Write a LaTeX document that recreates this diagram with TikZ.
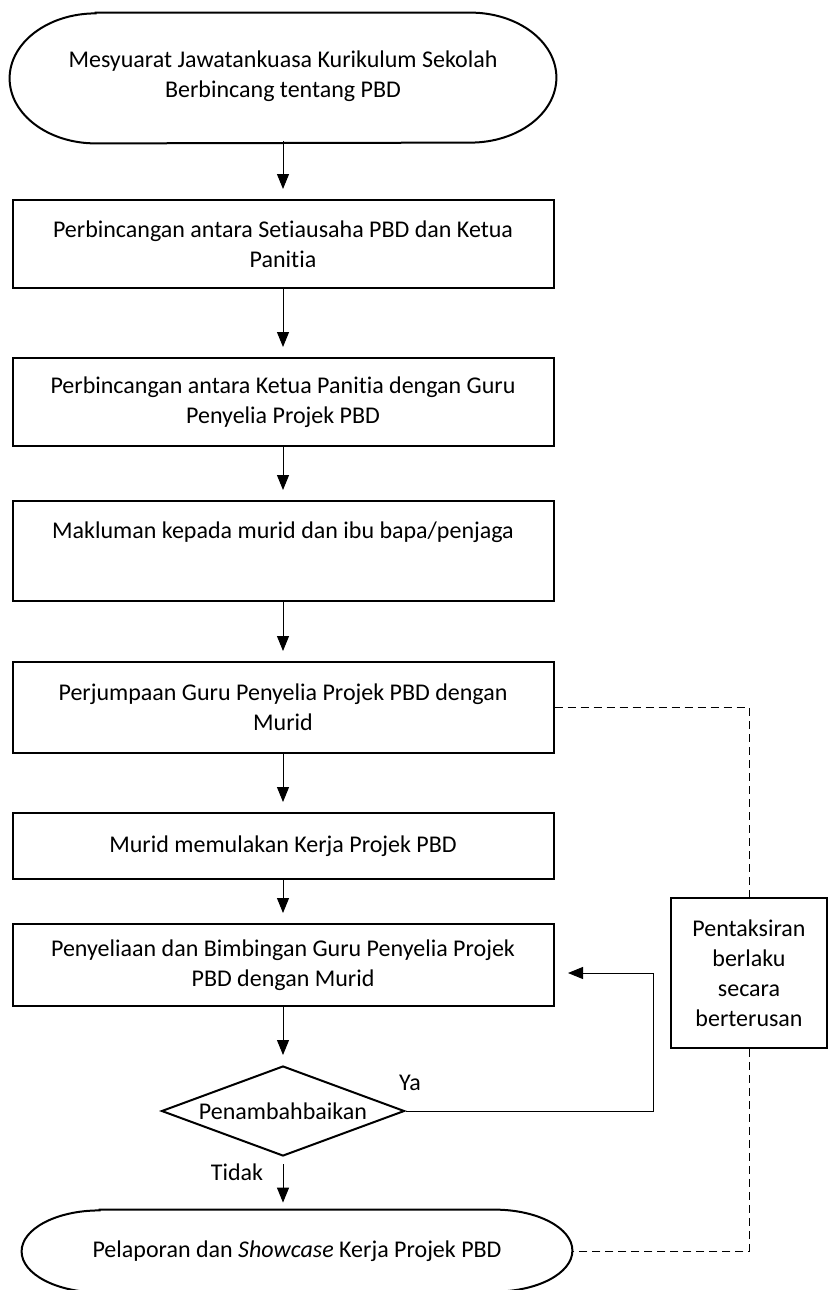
\documentclass[tikz,border=0pt]{standalone}
\usepackage{fontspec}
\setmainfont[Ligatures=NoCommon]{Carlito}
\usetikzlibrary{positioning,arrows.meta,shapes.geometric}

\tikzset{
  txt/.style={font=\fontsize{12}{15}\selectfont, align=center},
  procbox/.style={txt, draw, line width=1pt, minimum width=270.5pt, inner sep=0pt},
  termbox/.style={txt, inner sep=0pt},
  decbox/.style={txt, draw, diamond, aspect=2.7, line width=1pt, inner sep=0pt,
    minimum width=121.5pt, minimum height=45pt},
  notebox/.style={txt, draw, line width=0.75pt, minimum width=78pt, minimum height=75pt, inner sep=0pt},
  flow/.style={-{Triangle[width=6pt,length=7.5pt]}, line width=0.5pt, shorten >=5pt},
  dashline/.style={line width=0.5pt, dash pattern=on 4pt off 2.5pt}
}

\begin{document}
\begin{tikzpicture}[x=0.5pt,y=-0.5pt]
  \useasboundingbox (0,0) rectangle (828,1290);

  % start of the flow
  \node[termbox, minimum width=273pt, minimum height=65pt] (start) at (283,76)
    {Mesyuarat Jawatankuasa Kurikulum Sekolah\\Berbincang tentang PBD};
  \draw[line width=1pt] ([xshift=43pt,yshift=-1pt]start.north west) -- ([xshift=-43pt,yshift=-1pt]start.north east)
    arc[start angle=90, end angle=-90, x radius=43pt, y radius=32.5pt]
    -- ([xshift=43pt,yshift=-1pt]start.south west)
    arc[start angle=270, end angle=90, x radius=43pt, y radius=32.5pt] -- cycle;

  % steps
  \node[procbox, minimum height=44pt] (b1) at (283,244)
    {Perbincangan antara Setiausaha PBD dan Ketua\\Panitia};
  \node[procbox, minimum height=44pt] (b2) at (283,402)
    {Perbincangan antara Ketua Panitia dengan Guru\\Penyelia Projek PBD};
  \node[procbox, minimum height=50pt] (b3) at (283,551)
    {Makluman kepada murid dan ibu bapa/penjaga\\[6pt]\mbox{}};
  \node[procbox, minimum height=45.5pt] (b4) at (283,707.5)
    {Perjumpaan Guru Penyelia Projek PBD dengan\\Murid};
  \node[procbox, minimum height=33pt] (b5) at (283,846)
    {Murid memulakan Kerja Projek PBD};
  \node[procbox, minimum height=41pt] (b6) at (283,965)
    {Penyeliaan dan Bimbingan Guru Penyelia Projek\\PBD dengan Murid};
  \node[decbox] (dec) at (283,1111) {Penambahbaikan};

  % end of the flow
  \node[termbox, minimum width=275pt, minimum height=41pt] (end) at (297,1251)
    {Pelaporan dan \textit{Showcase} Kerja Projek PBD};
  \draw[line width=1pt] ([xshift=39pt]end.north west) -- ([xshift=-39pt]end.north east)
    arc[start angle=90, end angle=-90, x radius=39pt, y radius=20.5pt]
    -- ([xshift=39pt]end.south west)
    arc[start angle=270, end angle=90, x radius=39pt, y radius=20.5pt] -- cycle;

  \node[notebox] (pent) at (749,973) {Pentaksiran\\berlaku\\secara\\berterusan};
  \node[txt] (ya) at (410,1083) {Ya};
  \node[txt] (tidak) at (237,1172) {Tidak};

  % arrows
  \draw[flow] (start) -- (b1);
  \draw[flow] (b1) -- (b2);
  \draw[flow] (b2) -- (b3);
  \draw[flow] (b3) -- (b4);
  \draw[flow] (b4) -- (b5);
  \draw[flow] (b5) -- (b6);
  \draw[flow] (b6) -- (dec);
  \draw[flow, shorten <=3.5pt, shorten >=3.5pt] (dec.south) -- (dec.south |- end.north);

  \coordinate (loop) at (653,973);
  \coordinate (looptip) at (568,973);
  \draw[flow, shorten >=0pt] (dec.east) -| (loop) -- (looptip);

  % assessment link
  \draw[dashline] (b4.east) -| (pent.north);
  \draw[dashline] (pent.south) |- (end.east);
\end{tikzpicture}
\end{document}
